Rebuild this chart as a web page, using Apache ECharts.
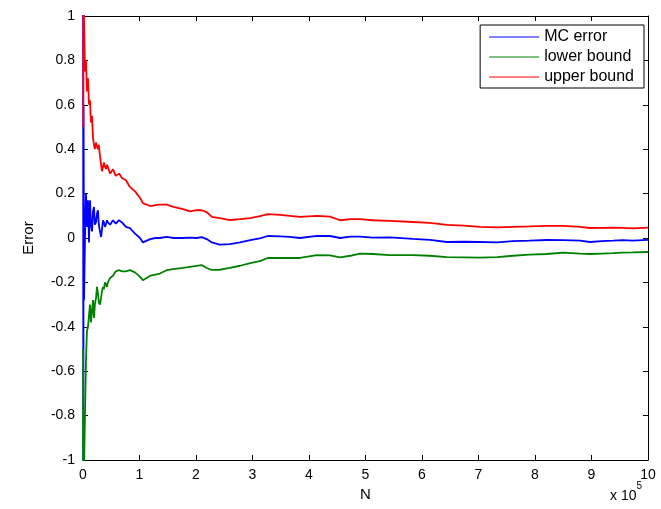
<!DOCTYPE html>
<html>
<head>
<meta charset="utf-8">
<script src="https://cdn.jsdelivr.net/npm/echarts@6/dist/echarts.min.js"></script>
<style>
  html, body { margin: 0; padding: 0; background: #fff; }
  #chart { width: 661px; height: 509px; }
</style>
</head>
<body>
<div id="chart"></div>
<script>
// N in units of 1e5
const nValues = [0.002, 0.006, 0.01, 0.018, 0.035, 0.053, 0.07, 0.088, 0.106, 0.124, 0.14, 0.16, 0.177, 0.195, 0.21, 0.23, 0.248, 0.265, 0.28, 0.3, 0.32, 0.336, 0.354, 0.37, 0.39, 0.41, 0.425, 0.44, 0.48, 0.53, 0.58, 0.637, 0.69, 0.76, 0.83, 0.92, 1.01, 1.06, 1.19, 1.28, 1.36, 1.48, 1.60, 1.77, 1.89, 2.01, 2.10, 2.19, 2.28, 2.42, 2.60, 2.78, 2.96, 3.13, 3.27, 3.49, 3.66, 3.84, 4.14, 4.37, 4.55, 4.73, 4.90, 5.13, 5.43, 5.84, 6.14, 6.44, 6.74, 7.03, 7.33, 7.61, 7.9, 8.21, 8.50, 8.80, 8.97, 9.18, 9.38, 9.55, 9.73, 10.0]

const mcError = [1.5, -1.5, 0.6, -0.28, 0.0, 0.2, 0.05, 0.17, -0.02, 0.17, 0.06, 0.03, 0.12, 0.14, 0.06, 0.07, 0.11, 0.125, 0.06, 0.03, 0.005, 0.04, 0.08, 0.07, 0.05, 0.065, 0.08, 0.07, 0.06, 0.08, 0.065, 0.08, 0.07, 0.05, 0.045, 0.02, 0.0, -0.02, -0.005, 0.0, 0.0, 0.005, 0.0, 0.0, 0.002, 0.0, 0.004, -0.005, -0.02, -0.03, -0.028, -0.02, -0.01, -0.002, 0.009, 0.007, 0.005, 0.0, 0.01, 0.009, 0.0, 0.006, 0.006, 0.002, 0.003, -0.004, -0.008, -0.018, -0.017, -0.018, -0.02, -0.014, -0.012, -0.009, -0.01, -0.012, -0.018, -0.014, -0.012, -0.01, -0.012, -0.008]

const lowerBound = [-0.5, -3.5, -1.3, -1.05, -0.8, -0.55, -0.42, -0.40, -0.35, -0.30, -0.38, -0.33, -0.28, -0.36, -0.30, -0.27, -0.22, -0.25, -0.29, -0.30, -0.27, -0.24, -0.22, -0.23, -0.20, -0.21, -0.22, -0.2, -0.18, -0.17, -0.15, -0.145, -0.15, -0.15, -0.145, -0.155, -0.175, -0.19, -0.17, -0.165, -0.16, -0.145, -0.14, -0.135, -0.13, -0.126, -0.122, -0.135, -0.144, -0.143, -0.135, -0.125, -0.113, -0.104, -0.09, -0.09, -0.09, -0.09, -0.077, -0.078, -0.087, -0.08, -0.07, -0.072, -0.077, -0.077, -0.08, -0.086, -0.087, -0.088, -0.086, -0.08, -0.075, -0.072, -0.066, -0.07, -0.072, -0.07, -0.068, -0.066, -0.065, -0.063]

const upperBound = [3.5, 0.5, 2.5, 0.98, 0.75, 0.8, 0.66, 0.72, 0.6, 0.62, 0.52, 0.55, 0.45, 0.42, 0.40, 0.43, 0.41, 0.40, 0.42, 0.37, 0.33, 0.30, 0.32, 0.34, 0.32, 0.31, 0.33, 0.33, 0.29, 0.31, 0.28, 0.29, 0.27, 0.26, 0.23, 0.21, 0.18, 0.157, 0.144, 0.148, 0.15, 0.15, 0.14, 0.13, 0.12, 0.126, 0.125, 0.117, 0.095, 0.09, 0.081, 0.085, 0.09, 0.099, 0.108, 0.104, 0.1, 0.095, 0.1, 0.096, 0.08, 0.085, 0.085, 0.08, 0.077, 0.072, 0.068, 0.059, 0.056, 0.05, 0.048, 0.05, 0.052, 0.055, 0.055, 0.05, 0.045, 0.046, 0.047, 0.046, 0.043, 0.047]

const xTicks = { min: 0, max: 10, interval: 1 }
const yTicks = { min: -1, max: 1, interval: 0.2 }

const font = 'Liberation Sans, Arial, sans-serif'
const chart = echarts.init(document.getElementById('chart'))

function pairs(vals) {
  return nValues.map((n, i) => [n, vals[i]])
}

function lineSeries(name, color, vals) {
  return {
    name: name,
    type: 'line',
    symbol: 'none',
    clip: true,
    lineStyle: { color: color, width: 1.8 },
    itemStyle: { color: color },
    data: pairs(vals)
  }
}

const axisCommon = {
  type: 'value',
  axisLine: { show: true, onZero: false, lineStyle: { color: '#000', width: 1 } },
  axisTick: { show: true, inside: true, length: 5, lineStyle: { color: '#000' } },
  splitLine: { show: false }
}

// plain line sample for the legend (moves keep the box height)
const legendLine = 'path://M0,0 M0,7.5 L50,7.5 L50,8.5 L0,8.5 Z M50,16'

chart.setOption({
  animation: false,
  backgroundColor: '#fff',
  textStyle: { fontFamily: font },
  grid: { left: 83, right: 13, top: 16, bottom: 49 },
  legend: {
    orient: 'vertical',
    right: 17,
    top: 25,
    padding: [4, 10, 3, 9],
    itemGap: 4,
    itemWidth: 50,
    itemHeight: 16,
    icon: legendLine,
    borderColor: '#000',
    borderWidth: 1,
    borderRadius: 0,
    backgroundColor: '#fff',
    textStyle: { fontFamily: font, fontSize: 16, color: '#000' },
    data: ['MC error', 'lower bound', 'upper bound']
  },
  xAxis: [
    Object.assign({}, axisCommon, {
      position: 'bottom',
      min: xTicks.min, max: xTicks.max, interval: xTicks.interval,
      name: 'N',
      nameLocation: 'middle',
      nameGap: 25,
      nameTextStyle: { fontFamily: font, fontSize: 15, color: '#000' },
      axisLabel: { fontFamily: font, fontSize: 14, color: '#000', margin: 8 }
    }),
    Object.assign({}, axisCommon, {
      position: 'top',
      min: xTicks.min, max: xTicks.max, interval: xTicks.interval,
      axisLabel: { show: false }
    })
  ],
  yAxis: [
    Object.assign({}, axisCommon, {
      position: 'left',
      min: yTicks.min, max: yTicks.max, interval: yTicks.interval,
      name: 'Error',
      nameLocation: 'middle',
      nameRotate: 90,
      nameGap: 47,
      nameTextStyle: { fontFamily: font, fontSize: 15, color: '#000' },
      axisLabel: { fontFamily: font, fontSize: 14, color: '#000', margin: 8 }
    }),
    Object.assign({}, axisCommon, {
      position: 'right',
      min: yTicks.min, max: yTicks.max, interval: yTicks.interval,
      axisLabel: { show: false }
    })
  ],
  graphic: [{
    type: 'text',
    left: 610,
    top: 481,
    style: {
      text: '{a|x 10}{b|5}',
      rich: {
        a: { fontFamily: font, fontSize: 14, fill: '#000', padding: [8, 0, 0, 0] },
        b: { fontFamily: font, fontSize: 10, fill: '#000', verticalAlign: 'top' }
      }
    }
  }],
  series: [
    lineSeries('MC error', '#0000ff', mcError),
    lineSeries('lower bound', '#008000', lowerBound),
    lineSeries('upper bound', '#ff0000', upperBound)
  ]
})
</script>
</body>
</html>
